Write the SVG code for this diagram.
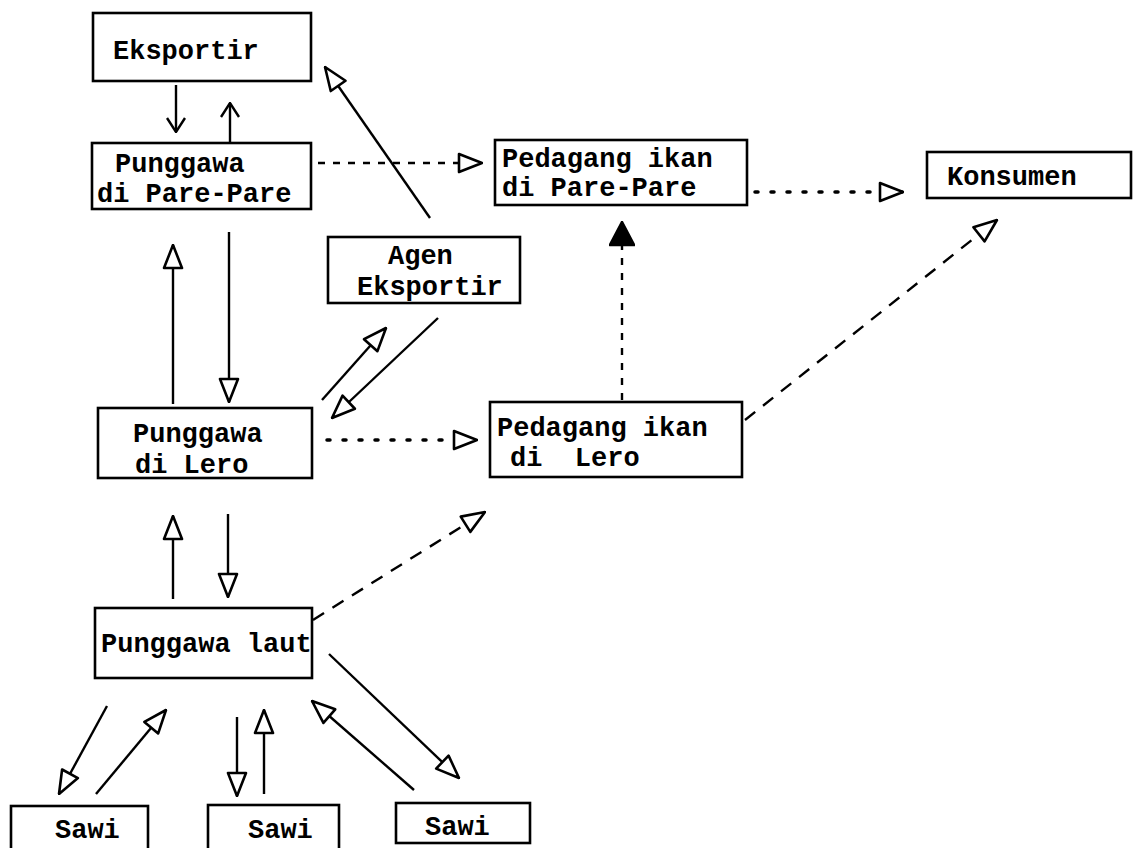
<svg xmlns="http://www.w3.org/2000/svg" width="1134" height="848" viewBox="0 0 1134 848">
<style>
.box{fill:none;stroke:#000;stroke-width:2.6}
.t{font-family:"Liberation Mono","Courier New",monospace;font-size:27px;font-weight:bold;fill:#000}
.c{fill:none;stroke:#000;stroke-width:2.4}
.dash{stroke-dasharray:7 8}
.dot{stroke-dasharray:3 13;stroke-linecap:round;stroke-width:3.5}
.ldash{stroke-dasharray:13 10}
</style>
<defs>
<marker id="tri" viewBox="0 0 26 22" refX="25" refY="11" markerWidth="26" markerHeight="22" markerUnits="userSpaceOnUse" orient="auto">
<path d="M2,2 L25,11 L2,20 Z" fill="#fff" stroke="#000" stroke-width="2.6" stroke-linejoin="round"/>
</marker>
<marker id="trif" viewBox="0 0 26 26" refX="25" refY="13" markerWidth="26" markerHeight="26" markerUnits="userSpaceOnUse" orient="auto">
<path d="M2,1 L25,13 L2,25 Z" fill="#000" stroke="#000" stroke-width="2.6" stroke-linejoin="round"/>
</marker>
<marker id="vee" viewBox="0 0 16 20" refX="15" refY="10" markerWidth="16" markerHeight="20" markerUnits="userSpaceOnUse" orient="auto">
<path d="M1,1 L15,10 L1,19" fill="none" stroke="#000" stroke-width="2.4"/>
</marker>
</defs>
<rect width="1134" height="848" fill="#fff"/>

<g id="connectors">
<line class="c" x1="176" y1="85" x2="176" y2="132" marker-end="url(#vee)"/>
<line class="c" x1="230" y1="143" x2="230" y2="103" marker-end="url(#vee)"/>
<line class="c" x1="430" y1="218" x2="325" y2="67" marker-end="url(#tri)"/>
<line class="c dash" x1="318" y1="163" x2="482" y2="163" marker-end="url(#tri)"/>
<line class="c dot" x1="755" y1="192" x2="903" y2="192" marker-end="url(#tri)"/>
<line class="c" x1="229" y1="232" x2="229" y2="402" marker-end="url(#tri)"/>
<line class="c" x1="173" y1="404" x2="173" y2="245" marker-end="url(#tri)"/>
<line class="c" x1="322" y1="400" x2="386" y2="328" marker-end="url(#tri)"/>
<line class="c" x1="438" y1="318" x2="332" y2="418" marker-end="url(#tri)"/>
<line class="c dot" x1="327" y1="440" x2="477" y2="440" marker-end="url(#tri)"/>
<line class="c dash" x1="622" y1="400" x2="622" y2="222" marker-end="url(#trif)"/>
<line class="c ldash" x1="745" y1="420" x2="997" y2="220" marker-end="url(#tri)"/>
<line class="c" x1="173" y1="599" x2="173" y2="516" marker-end="url(#tri)"/>
<line class="c" x1="228" y1="514" x2="228" y2="597" marker-end="url(#tri)"/>
<line class="c ldash" x1="313" y1="620" x2="485" y2="512" marker-end="url(#tri)"/>
<line class="c" x1="107" y1="706" x2="59" y2="794" marker-end="url(#tri)"/>
<line class="c" x1="96" y1="794" x2="166" y2="710" marker-end="url(#tri)"/>
<line class="c" x1="237" y1="717" x2="237" y2="796" marker-end="url(#tri)"/>
<line class="c" x1="264" y1="794" x2="264" y2="710" marker-end="url(#tri)"/>
<line class="c" x1="414" y1="790" x2="312" y2="701" marker-end="url(#tri)"/>
<line class="c" x1="329" y1="654" x2="459" y2="778" marker-end="url(#tri)"/>
</g>

<g id="eksportir"><rect class="box" x="93" y="13" width="218" height="68"/><text class="t" x="113" y="59">Eksportir</text></g>
<g id="punggawa-pare"><rect class="box" x="92" y="143" width="219" height="66"/><text class="t" x="115" y="172">Punggawa</text><text class="t" x="97" y="202">di Pare-Pare</text></g>
<g id="pedagang-pare"><rect class="box" x="495" y="140" width="252" height="65"/><text class="t" x="502" y="167">Pedagang ikan</text><text class="t" x="502" y="196">di Pare-Pare</text></g>
<g id="konsumen"><rect class="box" x="927" y="152" width="204" height="46"/><text class="t" x="947" y="185">Konsumen</text></g>
<g id="agen-eksportir"><rect class="box" x="328" y="237" width="192" height="66"/><text class="t" x="388" y="264">Agen</text><text class="t" x="357" y="295">Eksportir</text></g>
<g id="punggawa-lero"><rect class="box" x="98" y="408" width="214" height="70"/><text class="t" x="133" y="442">Punggawa</text><text class="t" x="135" y="473">di Lero</text></g>
<g id="pedagang-lero"><rect class="box" x="490" y="402" width="252" height="75"/><text class="t" x="497" y="436">Pedagang ikan</text><text class="t" x="510" y="466" xml:space="preserve">di  Lero</text></g>
<g id="punggawa-laut"><rect class="box" x="95" y="608" width="217" height="70"/><text class="t" x="101" y="652">Punggawa laut</text></g>
<g id="sawi-1"><rect class="box" x="11" y="806" width="137" height="60"/><text class="t" x="55" y="838">Sawi</text></g>
<g id="sawi-2"><rect class="box" x="208" y="805" width="131" height="60"/><text class="t" x="248" y="838">Sawi</text></g>
<g id="sawi-3"><rect class="box" x="396" y="803" width="134" height="40"/><text class="t" x="425" y="835">Sawi</text></g>
</svg>
